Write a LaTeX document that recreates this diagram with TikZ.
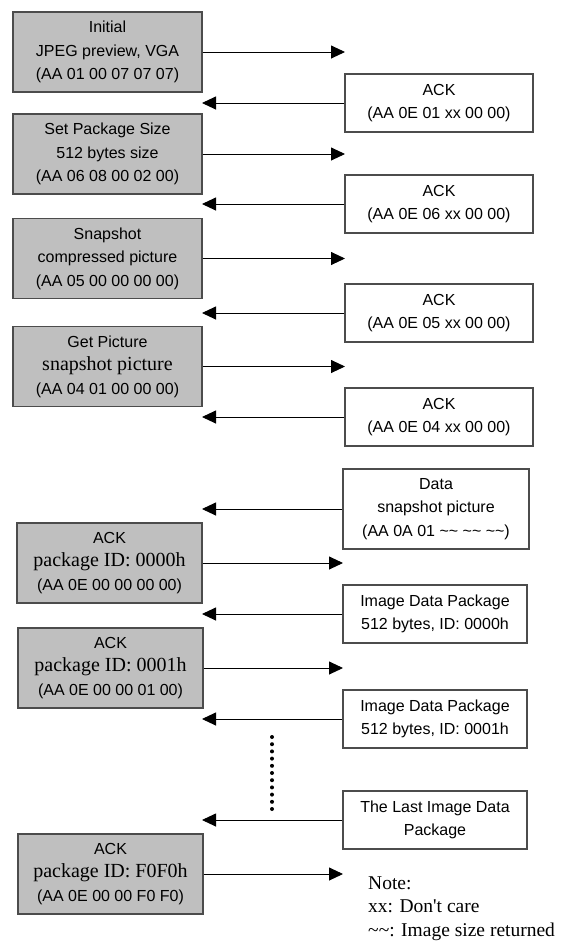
\documentclass[tikz,border=0pt]{standalone}
\usepackage{fontspec}
\setmainfont{Liberation Sans}
\newfontfamily\serifpart{Liberation Serif}
\usetikzlibrary{arrows.meta}
\newcommand{\tms}[1]{{\serifpart\fontsize{20}{23.5}\selectfont #1}}
\begin{document}
\begin{tikzpicture}[x=1pt,y=-1pt,
hostbox/.style={draw=black!70,line width=1.1pt,fill=black!25,minimum width=187pt,minimum height=80pt,inner sep=0pt,align=center,font=\fontsize{16}{23.5}\selectfont},
cambox/.style={draw=black!70,line width=1.1pt,fill=white,minimum width=187pt,minimum height=58pt,inner sep=0pt,align=center,font=\fontsize{16}{23.5}\selectfont},
msgarrow/.style={-{Triangle[length=14pt,width=13pt]},line width=0.9pt}]
\useasboundingbox (0,0) rectangle (584,951);
\node (init) at (107.5,52) [hostbox,minimum width=189pt] {Initial\\JPEG preview, VGA\\(AA 01 00 07 07 07)};
\node (ack1) at (439,103) [cambox,minimum width=188pt] {ACK\\(AA 0E 01 xx 00 00)};
\node (setsize) at (107.5,154) [hostbox,minimum width=189pt] {Set Package Size\\512 bytes size\\(AA 06 08 00 02 00)};
\node (ack2) at (439,204) [cambox,minimum width=188pt] {ACK\\(AA 0E 06 xx 00 00)};
\node (snap) at (107.5,258.5) [hostbox,minimum width=189pt] {Snapshot\\compressed picture\\(AA 05 00 00 00 00)};
\node (ack3) at (439,313) [cambox,minimum width=188pt] {ACK\\(AA 0E 05 xx 00 00)};
\node (getpic) at (107.5,366.5) [hostbox,minimum width=189pt] {Get Picture\\\tms{snapshot picture}\\(AA 04 01 00 00 00)};
\node (ack4) at (439,417) [cambox,minimum width=188pt] {ACK\\(AA 0E 04 xx 00 00)};
\node (data) at (436,509) [cambox,minimum width=186pt,minimum height=80pt] {Data\\snapshot picture\\(AA 0A 01 \textasciitilde\textasciitilde\ \textasciitilde\textasciitilde\ \textasciitilde\textasciitilde)};
\node (pkack0) at (109.5,563) [hostbox,minimum width=185pt] {ACK\\\tms{package ID: 0000h}\\(AA 0E 00 00 00 00)};
\node (img0) at (435,614) [cambox,minimum width=184pt] {Image Data Package\\512 bytes, ID: 0000h};
\node (pkack1) at (110.5,668) [hostbox,minimum width=185pt] {ACK\\\tms{package ID: 0001h}\\(AA 0E 00 00 01 00)};
\node (img1) at (435,719) [cambox,minimum width=184pt] {Image Data Package\\512 bytes, ID: 0001h};
\node (lastimg) at (435,820) [cambox,minimum width=184pt] {The Last Image Data\\Package};
\node (pklast) at (110.5,874) [hostbox,minimum width=185pt] {ACK\\\tms{package ID: F0F0h}\\(AA 0E 00 00 F0 F0)};
\node (note) at (368,936) [anchor=base west,align=left,inner sep=0pt,font=\serifpart\fontsize{19.5}{23.5}\selectfont] {Note:\\xx: Don't care\\\textasciitilde\textasciitilde: Image size returned};
\coordinate (r1) at (345,52);
\coordinate (r2) at (345,154);
\coordinate (r3) at (345,258.5);
\coordinate (r4) at (345,366.5);
\coordinate (r5) at (343,563);
\coordinate (r6) at (343,668);
\coordinate (r7) at (343,874);
\coordinate (l1) at (202,103);
\coordinate (l2) at (202,204);
\coordinate (l3) at (202,313);
\coordinate (l4) at (202,417);
\coordinate (l5) at (202,509);
\coordinate (l6) at (202,614);
\coordinate (l7) at (202,719);
\coordinate (l8) at (202,820);
\draw [msgarrow] (init.east) -- (r1);
\draw [msgarrow] (ack1.west) -- (l1);
\draw [msgarrow] (setsize.east) -- (r2);
\draw [msgarrow] (ack2.west) -- (l2);
\draw [msgarrow] (snap.east) -- (r3);
\draw [msgarrow] (ack3.west) -- (l3);
\draw [msgarrow] (getpic.east) -- (r4);
\draw [msgarrow] (ack4.west) -- (l4);
\draw [msgarrow] (data.west) -- (l5);
\draw [msgarrow] (pkack0.east) -- (r5);
\draw [msgarrow] (img0.west) -- (l6);
\draw [msgarrow] (pkack1.east) -- (r6);
\draw [msgarrow] (img1.west) -- (l7);
\draw [msgarrow] (lastimg.west) -- (l8);
\draw [msgarrow] (pklast.east) -- (r7);
\coordinate (dotstop) at (272,737);
\coordinate (dotsbot) at (272,809);
\draw [line width=4pt,line cap=round,dash pattern=on 0pt off 7.2pt] (dotstop) -- (dotsbot);
\end{tikzpicture}
\end{document}
